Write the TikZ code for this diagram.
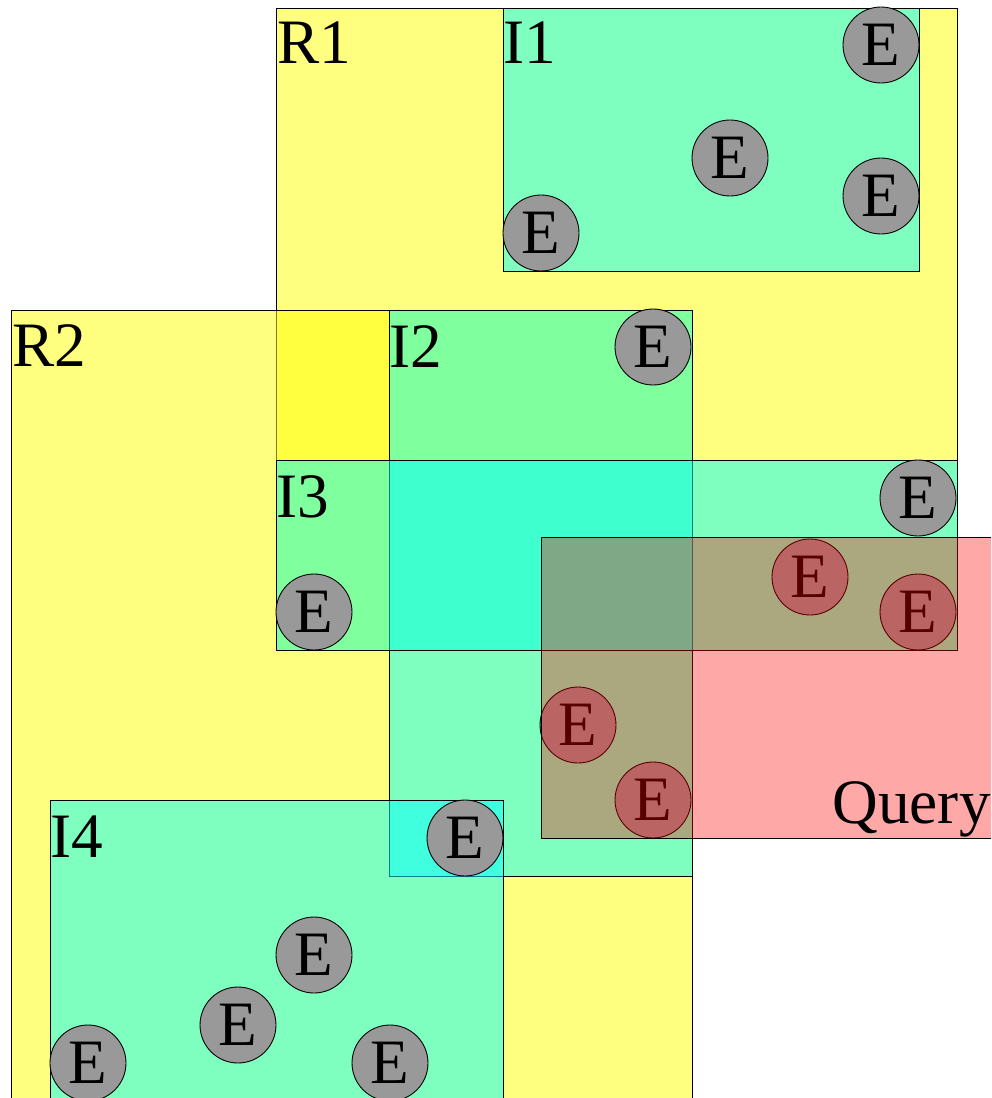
\documentclass[tikz,border=0pt]{standalone}
\usepackage{fontspec}
\setmainfont{Liberation Serif}
\usepackage{tikz}
\usetikzlibrary{positioning}

\definecolor{rtone}{RGB}{255,255,0}
\definecolor{itone}{RGB}{0,255,255}
\definecolor{qtone}{RGB}{255,0,0}
\definecolor{etone}{RGB}{153,153,153}

\begin{document}
\begin{tikzpicture}[
  x=0.02cm, y=-0.02cm,
  region/.style={draw=black, line width=0.5pt, fill=rtone, fill opacity=0.5},
  inner/.style={draw=black, line width=0.5pt, fill=itone, fill opacity=0.5},
  search/.style={draw=black, line width=0.5pt, fill=qtone, fill opacity=0.34},
  entry/.style={circle, draw=black, line width=0.5pt, fill=etone,
    minimum size=1.52cm, inner sep=0pt, font=\fontsize{36}{40}\selectfont},
  boxname/.style={anchor=base west, inner sep=0pt, font=\fontsize{36}{40}\selectfont}
]
\clip (0,0) rectangle (991,1098);

% Root regions
\filldraw[region] (276,8) rectangle (957,650);
\filldraw[region] (11,310) rectangle (692,1130);

% Inner nodes
\filldraw[inner] (503,8) rectangle (919,271);
\filldraw[inner] (389,310) rectangle (692,876);
\filldraw[inner] (276,460) rectangle (957,650);
\filldraw[inner] (50,800) rectangle (503,1130);

% Entries
\foreach \x/\y [count=\i] in {881/45, 730/158, 881/196, 541/233,
    653/347, 918/498, 314/612, 810/577, 918/612, 578/725, 653/800,
    465/838, 314/955, 238/1025, 88/1063, 390/1063} {
  \node[entry] (e\i) at (\x,\y) {E};
}

% Query window
\filldraw[search] (541,537) rectangle (996,838);

% Names
\node[boxname] (r1) at (277,64) {R1};
\node[boxname] (i1) at (503,64) {I1};
\node[boxname] (r2) at (12,366) {R2};
\node[boxname] (i2) at (389,367) {I2};
\node[boxname] (i3) at (276,517) {I3};
\node[boxname] (i4) at (50,857) {I4};
\node[anchor=base east, inner sep=0pt, font=\fontsize{36}{40}\selectfont] (q) at (991,823) {Query};

\end{tikzpicture}
\end{document}
